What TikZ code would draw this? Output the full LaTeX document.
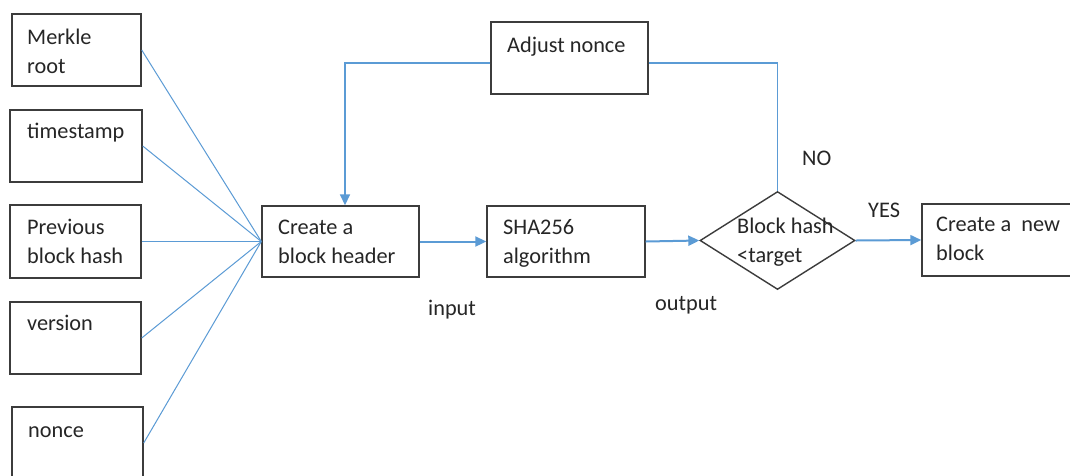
\documentclass[tikz,border=0pt]{standalone}
\usepackage{fontspec}
\setmainfont{Carlito}
\usetikzlibrary{arrows.meta,shapes.geometric}
\definecolor{linkblue}{RGB}{91,155,213}
\definecolor{boxgray}{RGB}{60,60,60}
\begin{document}
\begin{tikzpicture}[x=1pt,y=-1pt,
  box/.style={draw=boxgray,line width=1.4pt,inner sep=0pt},
  txt/.style={anchor=base west,inner sep=0pt,font=\fontsize{22.3}{29}\selectfont,align=left,text=black!85},
  feed/.style={draw=linkblue,line width=1pt},
  flow/.style={draw=linkblue,line width=2pt,-{Triangle[length=11pt,width=10pt]}},
  loop/.style={draw=linkblue,line width=1.6pt}
]
\useasboundingbox[fill=white] (0,0) rectangle (1070,475);

% input fields of the block header
\node[box,minimum width=129,minimum height=72] (merkle) at (76.5,50) {};
\node[box,minimum width=132,minimum height=72] (stamp) at (76,146) {};
\node[box,minimum width=131,minimum height=73] (prev) at (75.5,241.5) {};
\node[box,minimum width=131,minimum height=72] (version) at (75.5,338) {};
\node[box,minimum width=131,minimum height=72] (nonce) at (77.5,443) {};

% processing steps
\node[box,minimum width=157,minimum height=71] (header) at (340.5,241.5) {};
\node[box,minimum width=157,minimum height=72] (adjust) at (569.5,58) {};
\node[box,minimum width=158,minimum height=71] (sha) at (566,241.5) {};
\node[box,diamond,minimum width=155,minimum height=98] (check) at (777.5,240.5) {};
\node[box,minimum width=153,minimum height=72] (newblock) at (998.5,240) {};

% texts (anchored on the baseline of the last line)
\node[txt] (tmerkle) at (27,73) {Merkle\\root};
\node[txt] (tstamp) at (27,138) {timestamp};
\node[txt] (tprev) at (27,263) {Previous\\block hash};
\node[txt] (tversion) at (27,330) {version};
\node[txt] (tnonce) at (28,437) {nonce};
\node[txt] (theader) at (278,263) {Create a\\block header};
\node[txt] (tsha) at (503,263) {SHA256\\algorithm};
\node[txt] (tadjust) at (507,52) {Adjust nonce};
\node[txt] (tcheck) at (737,262) {Block hash\\<target};
\node[txt] (tnew) at (936,260) {Create a\ \ new\\block};
\node[txt] (tno) at (802,165) {NO};
\node[txt] (tyes) at (868,217) {YES};
\node[txt] (tout) at (655,310) {output};
\node[txt] (tin) at (428,315) {input};

% fields feeding the header
\foreach \f in {merkle,stamp,prev,version,nonce}
  \draw[feed] (\f.east) -- (header.west);

% main flow
\draw[flow] (header.east) -- (sha.west);
\draw[flow] (sha.east) -- (check.west);
\draw[flow] (check.east) -- (newblock.west);

% retry loop
\draw[loop] ([yshift=-5pt]adjust.east) -| (check.north);
\draw[flow,line width=1.6pt] ([yshift=-5pt]adjust.west) -| ([xshift=4.5pt]header.north);
\end{tikzpicture}
\end{document}
